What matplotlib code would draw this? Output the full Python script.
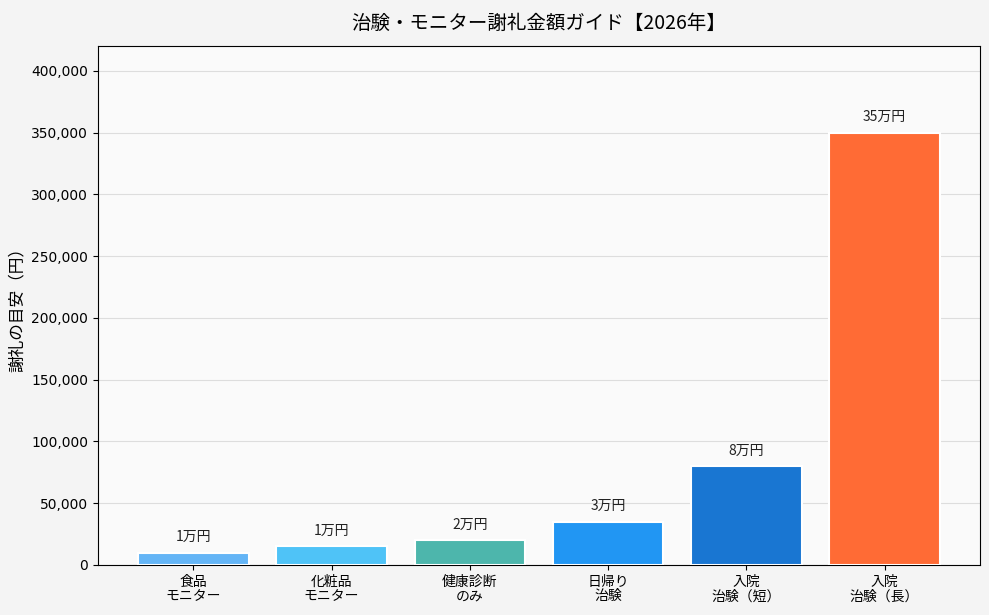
import matplotlib
matplotlib.use("Agg")
import matplotlib.pyplot as plt
from matplotlib.ticker import FuncFormatter

plt.rcParams['font.family'] = ['Noto Sans CJK JP', 'DejaVu Sans']

categories = ["食品\nモニター", "化粧品\nモニター", "健康診断\nのみ", "日帰り\n治験", "入院\n治験（短）", "入院\n治験（長）"]
values = [10000, 15000, 20000, 35000, 80000, 350000]
colors = ["#64B5F6", "#4FC3F7", "#4DB6AC", "#2196F3", "#1976D2", "#FF6B35"]

fig = plt.figure(figsize=(9.89, 6.15), dpi=100, facecolor="#f4f4f4")
ax = fig.add_axes([98/989, 1-565/615, (980-98)/989, (565-46)/615])
ax.set_facecolor("#fafafa")

x = range(len(categories))
bars = ax.bar(x, values, width=0.8, color=colors, edgecolor="white", linewidth=1.5, zorder=3)
for b, v in zip(bars, values):
    ax.text(b.get_x() + b.get_width()/2, v + 7000, f"{v // 10000}万円",
            ha="center", va="bottom", fontsize=10, color="#222222")

ax.set_xticks(list(x))
ax.set_xticklabels(categories, fontsize=10, linespacing=1.05)
ax.set_ylim(0, 420000)
ax.set_yticks(range(0, 400001, 50000))
ax.yaxis.set_major_formatter(FuncFormatter(lambda v, p: f"{int(v):,}"))
for t in ax.get_yticklabels():
    t.set_family("DejaVu Sans")
    t.set_fontsize(10)
ax.grid(axis="y", color="#dddddd", linewidth=0.8, zorder=0)
ax.set_ylabel("謝礼の目安（円）", fontsize=12)
ax.set_title("治験・モニター謝礼金額ガイド【2026年】", fontsize=14, pad=12)

fig.savefig("out.png", dpi=100, facecolor=fig.get_facecolor())
